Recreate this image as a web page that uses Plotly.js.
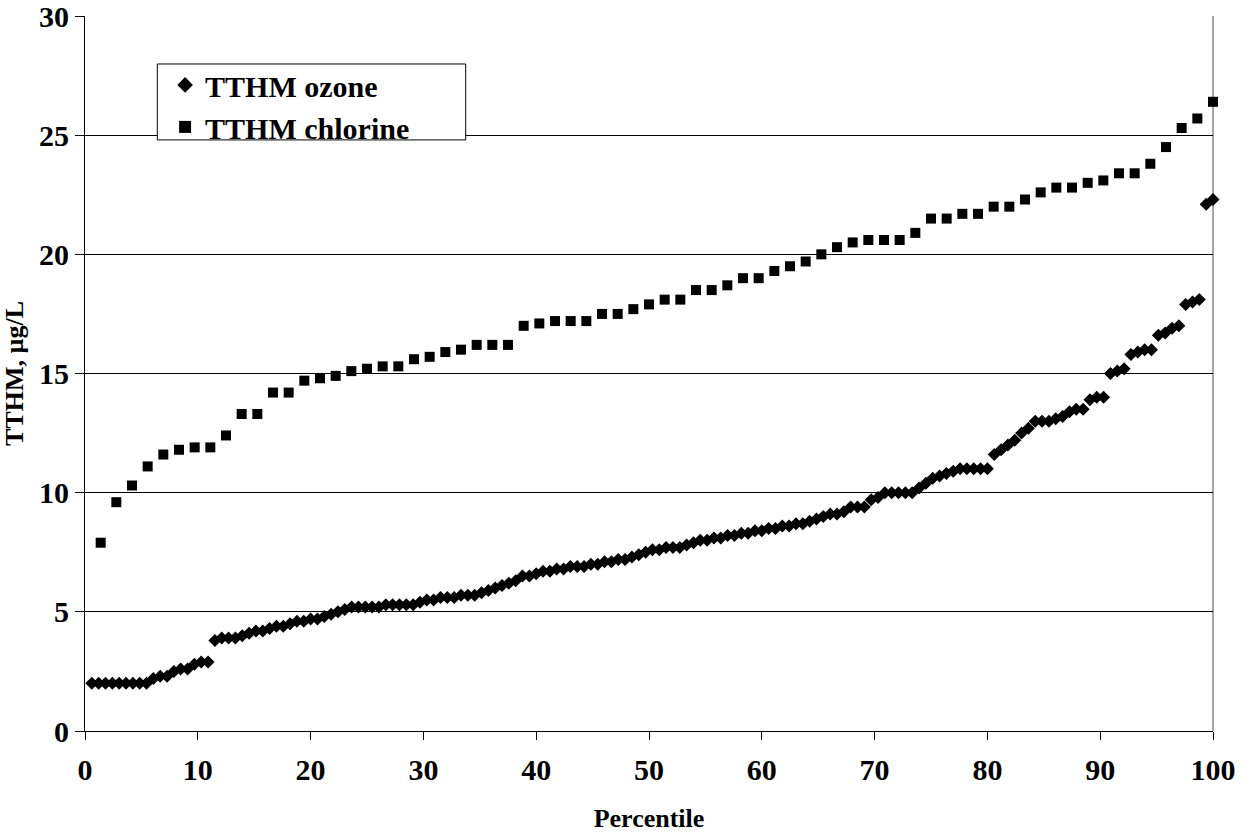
<!DOCTYPE html>
<html>
<head>
<meta charset="utf-8">
<script src="https://cdn.plot.ly/plotly-3.0.1.min.js"></script>
<style>html,body{margin:0;padding:0;background:#fff}#chart{width:1255px;height:838px}</style>
</head>
<body>
<div id="chart"></div>
<script>
// TTHM ozone: 165 sorted samples, plotted at percentile i/165*100
const ozoneValues = [
  2.0,2.0,2.0,2.0,2.0,2.0,2.0,2.0,2.0,2.2,
  2.3,2.3,2.5,2.6,2.6,2.8,2.9,2.9,3.8,3.9,
  3.9,3.9,4.0,4.1,4.2,4.2,4.3,4.4,4.4,4.5,
  4.6,4.6,4.7,4.7,4.8,4.9,5.0,5.1,5.2,5.2,
  5.2,5.2,5.2,5.3,5.3,5.3,5.3,5.3,5.4,5.5,
  5.5,5.6,5.6,5.6,5.7,5.7,5.7,5.8,5.9,6.0,
  6.1,6.2,6.3,6.5,6.5,6.6,6.7,6.7,6.8,6.8,
  6.9,6.9,6.9,7.0,7.0,7.1,7.1,7.2,7.2,7.3,
  7.4,7.5,7.6,7.6,7.7,7.7,7.7,7.8,7.9,8.0,
  8.0,8.1,8.1,8.2,8.2,8.3,8.3,8.4,8.4,8.5,
  8.5,8.6,8.6,8.7,8.7,8.8,8.9,9.0,9.1,9.1,
  9.2,9.4,9.4,9.4,9.7,9.8,10.0,10.0,10.0,10.0,
  10.0,10.2,10.4,10.6,10.7,10.8,10.9,11.0,11.0,11.0,
  11.0,11.0,11.6,11.8,12.0,12.2,12.5,12.7,13.0,13.0,
  13.0,13.1,13.2,13.4,13.5,13.5,13.9,14.0,14.0,15.0,
  15.1,15.2,15.8,15.9,16.0,16.0,16.6,16.7,16.9,17.0,
  17.9,18.0,18.1,22.1,22.3
];
// TTHM chlorine: 72 sorted samples, plotted at percentile i/72*100
const chlorineValues = [
  7.9,9.6,10.3,11.1,11.6,11.8,11.9,11.9,12.4,13.3,
  13.3,14.2,14.2,14.7,14.8,14.9,15.1,15.2,15.3,15.3,
  15.6,15.7,15.9,16.0,16.2,16.2,16.2,17.0,17.1,17.2,
  17.2,17.2,17.5,17.5,17.7,17.9,18.1,18.1,18.5,18.5,
  18.7,19.0,19.0,19.3,19.5,19.7,20.0,20.3,20.5,20.6,
  20.6,20.6,20.9,21.5,21.5,21.7,21.7,22.0,22.0,22.3,
  22.6,22.8,22.8,23.0,23.1,23.4,23.4,23.8,24.5,25.3,
  25.7,26.4
];
const xTicks = [0,10,20,30,40,50,60,70,80,90,100];
const yTicks = [0,5,10,15,20,25,30];
const seriesNames = ['TTHM ozone','TTHM chlorine'];
const xTitle = 'Percentile';
const yTitle = 'TTHM, µg/L';

const pct = (arr) => arr.map((_, i) => (i + 1) / arr.length * 100);

const FONT = 'Liberation Serif, Times New Roman, serif';

const traces = [
  {
    type: 'scatter', mode: 'markers', name: seriesNames[0],
    x: pct(ozoneValues), y: ozoneValues,
    marker: {symbol: 'diamond', size: 10, color: '#000'},
    cliponaxis: false
  },
  {
    type: 'scatter', mode: 'markers', name: seriesNames[1],
    x: pct(chlorineValues), y: chlorineValues,
    marker: {symbol: 'square', size: 10, color: '#000'},
    cliponaxis: false
  }
];

const layout = {
  width: 1255, height: 838,
  paper_bgcolor: '#fff', plot_bgcolor: '#fff',
  margin: {l: 85, r: 42, t: 16, b: 106.5},
  font: {family: FONT, color: '#000'},
  showlegend: true,
  legend: {
    x: 0.071, y: 0.94, xanchor: 'left', yanchor: 'top',
    bgcolor: 'rgba(0,0,0,0)', borderwidth: 0,
    font: {family: FONT, size: 30, color: '#000', weight: 'bold'},
    tracegroupgap: 0, itemsizing: 'constant'
  },
  xaxis: {
    range: [0, 100], tickvals: xTicks, ticktext: xTicks.map(String),
    showgrid: false, zeroline: false,
    showline: true, linecolor: '#000', linewidth: 1,
    ticks: 'outside', ticklen: 8, tickcolor: '#000', tickwidth: 1,
    ticklabelstandoff: 4, ticklabeloverflow: 'allow',
    tickfont: {family: FONT, size: 30, weight: 'bold'},
    title: {text: xTitle, font: {family: FONT, size: 26, weight: 'bold'}, standoff: 23},
    fixedrange: true
  },
  yaxis: {
    range: [0, 30], tickvals: yTicks, ticktext: yTicks.map(String),
    showgrid: true, gridcolor: '#000', gridwidth: 1,
    zeroline: false, ticklabeloverflow: 'allow',
    showline: true, linecolor: '#000', linewidth: 1,
    ticks: 'outside', ticklen: 9, tickcolor: '#000', tickwidth: 1,
    tickfont: {family: FONT, size: 30, weight: 'bold'},
    title: {text: yTitle, font: {family: FONT, size: 26, weight: 'bold'}, standoff: 28},
    fixedrange: true
  },
  shapes: [
    {type: 'line', xref: 'paper', yref: 'paper', x0: 1, x1: 1, y0: 0, y1: 1,
     line: {color: '#888', width: 1.5}, layer: 'below'},
    {type: 'rect', xref: 'paper', yref: 'paper', x0: 0.0641, x1: 0.3375, y0: 0.8267, y1: 0.9329,
     line: {color: '#000', width: 1}, fillcolor: '#fff', layer: 'above'}
  ]
};

Plotly.newPlot('chart', traces, layout, {displayModeBar: false, staticPlot: true});
</script>
</body>
</html>
